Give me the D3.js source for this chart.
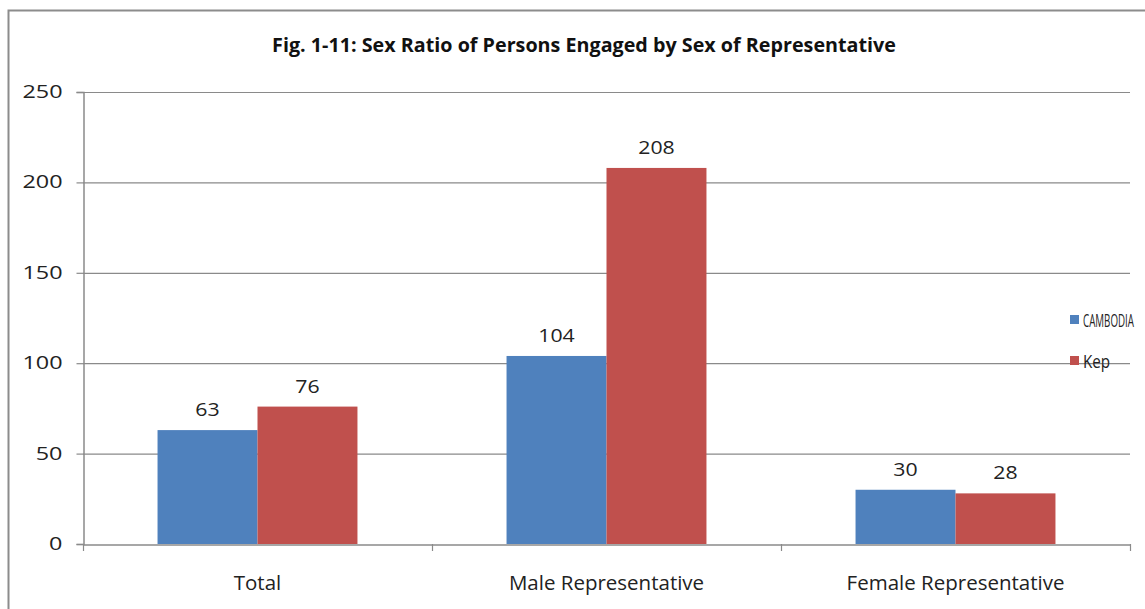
<!DOCTYPE html>
<html><head><meta charset="utf-8">
<script src="https://cdn.jsdelivr.net/npm/d3@7"></script>
<style>body{margin:0;background:#fff}svg{display:block}</style>
</head><body>
<svg id="c" width="1145" height="609"></svg>
<script>
const categories = ["Total", "Male Representative", "Female Representative"];
const seriesNames = ["CAMBODIA", "Kep"];
const cambodia = [63, 104, 30];
const kep = [76, 208, 28];
const yTicks = [0, 50, 100, 150, 200, 250];
const title = "Fig. 1-11: Sex Ratio of Persons Engaged by Sex of Representative";
const colors = ["#4f81bd", "#c0504d"];

const svg = d3.select("#c");
const m = {left: 83, right: 1130, top: 92, bottom: 544};
const FONT = "'Open Sans', sans-serif";

// horizontal stretch via transform, anchored at the text's own x/y
function stretch(sel, f) {
  sel.each(function() {
    const s = d3.select(this);
    const x = +s.attr("x") || 0, yy = +s.attr("y") || 0;
    const prev = s.attr("transform") || "";
    s.attr("x", 0).attr("y", 0).attr("transform", `${prev} translate(${x},${yy}) scale(${f},1)`);
  });
}

svg.append("rect").attr("x", 8.5).attr("y", 10.5).attr("width", 1160).attr("height", 620)
  .attr("fill", "#fff").attr("stroke", "#8c8c8c").attr("stroke-width", 2);

const t = svg.append("text").attr("x", 584).attr("y", 52).attr("text-anchor", "middle")
  .attr("font-family", FONT).attr("font-weight", "bold")
  .attr("font-size", 19.5).attr("fill", "#111").text(title);
stretch(t, 624 / t.node().getComputedTextLength());

const y = d3.scaleLinear().domain([0, 250]).range([m.bottom, m.top]);
const x0 = d3.scaleBand().domain(categories).range([m.left, m.right]).paddingInner(0).paddingOuter(0);
const x1 = d3.scaleBand().domain(seriesNames).range([0, x0.bandwidth()]).paddingInner(0).paddingOuter(0.7457);

// gridlines
svg.append("g").selectAll("line").data(yTicks.filter(d => d > 0)).join("line")
  .attr("x1", m.left).attr("x2", m.right).attr("y1", d => y(d) + 0.5).attr("y2", d => y(d) + 0.5)
  .attr("stroke", "#8a8a8a").attr("stroke-width", 1.2);

// y axis
const yAxis = svg.append("g").attr("transform", `translate(${m.left + 0.5},0)`)
  .call(d3.axisLeft(y).tickValues(yTicks).tickSize(7).tickPadding(14));
yAxis.select(".domain").attr("stroke", "#8a8a8a").attr("stroke-width", 1.5);
yAxis.selectAll(".tick line").attr("stroke", "#8a8a8a").attr("stroke-width", 1.2);
yAxis.selectAll(".tick text").attr("font-family", FONT).attr("font-size", 18).attr("fill", "#222")
  .attr("dy", "0.30em");
stretch(yAxis.selectAll(".tick text"), 1.3);
yAxis.selectAll(".tick").attr("transform", d => `translate(0,${y(d) + 0.5})`);

// bars
const series = [cambodia, kep];
const g = svg.append("g");
seriesNames.forEach((s, si) => {
  g.selectAll(".b" + si).data(categories).join("rect")
    .attr("x", (c) => x0(c) + x1(s))
    .attr("y", (c, i) => y(series[si][i]))
    .attr("width", x1.bandwidth())
    .attr("height", (c, i) => y(0) - y(series[si][i]))
    .attr("fill", colors[si]);
  const lab = g.selectAll(".l" + si).data(categories).join("text")
    .attr("x", (c) => x0(c) + x1(s) + x1.bandwidth() / 2)
    .attr("y", (c, i) => y(series[si][i]) - 14)
    .attr("text-anchor", "middle")
    .attr("font-family", FONT).attr("font-size", 19).attr("fill", "#222")
    .text((c, i) => series[si][i]);
  stretch(lab, 1.12);
});

// x axis
const xAxis = svg.append("g").attr("transform", `translate(0,${m.bottom + 0.5})`)
  .call(d3.axisBottom(x0).tickSize(0).tickPadding(0));
xAxis.select(".domain").attr("stroke", "#8a8a8a").attr("stroke-width", 1.5);
xAxis.selectAll(".tick text").attr("font-family", FONT).attr("font-size", 20.5).attr("fill", "#222")
  .attr("dy", null).attr("y", 45);
const bounds = categories.map(c => x0(c)).concat([m.right]);
svg.append("g").selectAll("line").data(bounds).join("line")
  .attr("x1", d => d + 0.5).attr("x2", d => d + 0.5).attr("y1", m.bottom).attr("y2", m.bottom + 7)
  .attr("stroke", "#8a8a8a").attr("stroke-width", 1.2);

// legend
const lg = svg.append("g");
seriesNames.forEach((s, i) => {
  const ly = 327 + i * 41;
  lg.append("rect").attr("x", 1070).attr("y", ly - 12).attr("width", 9).attr("height", 9).attr("fill", colors[i]);
  const lt = lg.append("text").attr("x", 1083).attr("y", ly).attr("font-family", FONT)
    .attr("font-size", 19).attr("fill", "#222").text(s);
  stretch(lt, i === 0 ? 51 / lt.node().getComputedTextLength() : 0.8);
});
</script>
</body></html>
